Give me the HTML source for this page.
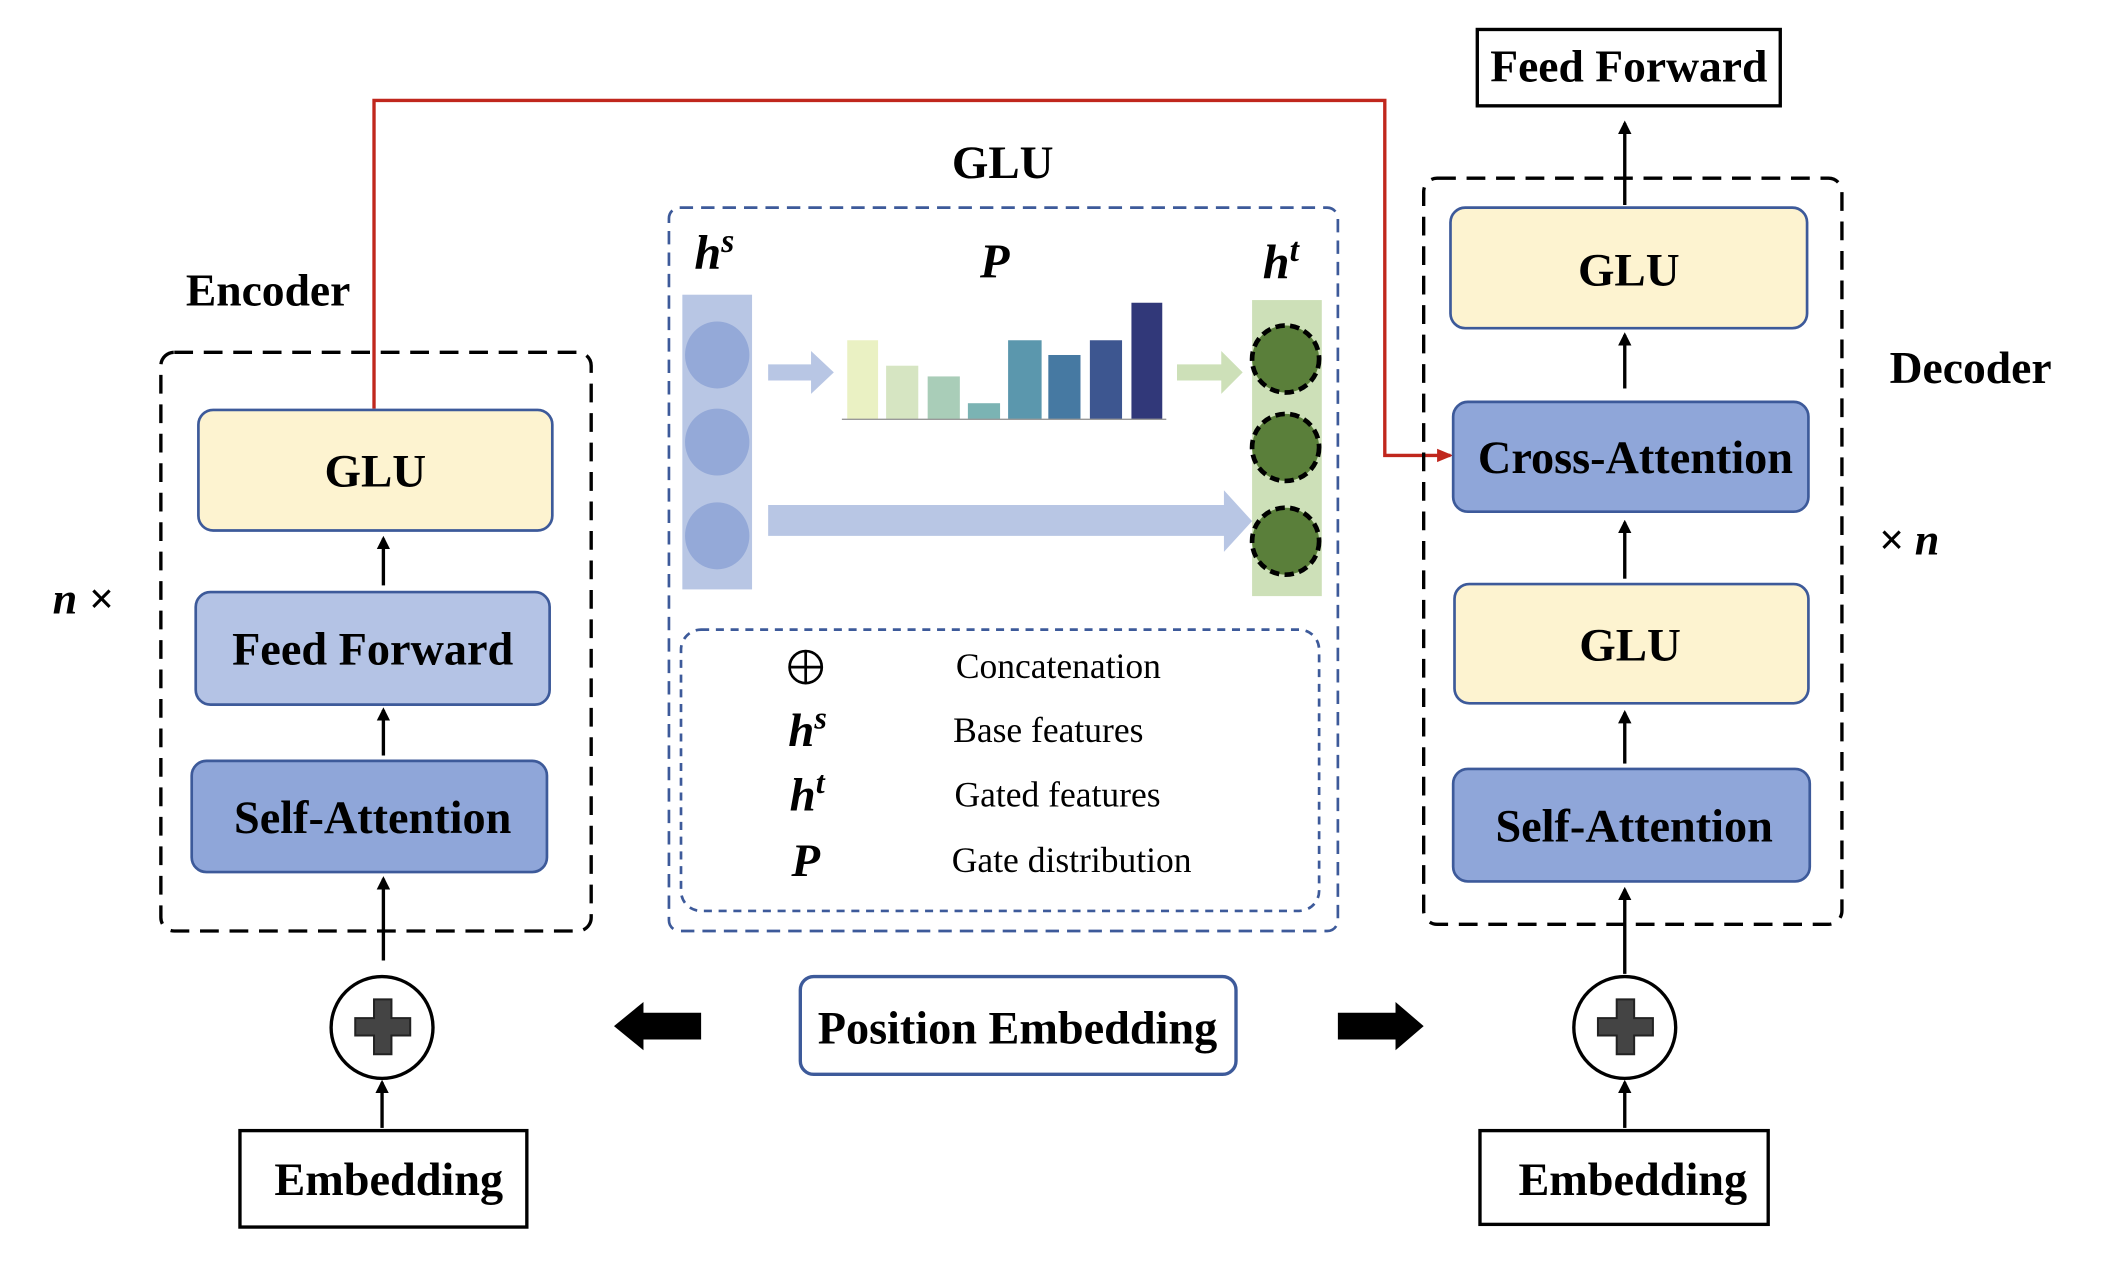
<!DOCTYPE html>
<html><head><meta charset="utf-8"><style>html,body{margin:0;padding:0;background:#fff}svg{display:block}</style></head>
<body>
<svg width="2102" height="1286" viewBox="0 0 1568 960" preserveAspectRatio="none" xmlns="http://www.w3.org/2000/svg" font-family="Liberation Serif, serif">
<defs>
<marker id="ah" markerWidth="10" markerHeight="10" refX="8" refY="5" orient="auto" markerUnits="userSpaceOnUse"><path d="M0,0 L10,5 L0,10 z" fill="#000"/></marker>
<marker id="ahr" markerWidth="12" markerHeight="12" refX="10" refY="6" orient="auto" markerUnits="userSpaceOnUse"><path d="M0,1 L12,6 L0,11 z" fill="#c0271d"/></marker>
</defs>
<polyline points="279,305 279,75 1033,75 1033,340 1082,340" fill="none" stroke="#c0271d" stroke-width="2.5" marker-end="url(#ahr)"/>

<text x="200" y="228" font-size="34" font-weight="bold" text-anchor="middle">Encoder</text>
<rect x="120" y="263" width="321" height="432" rx="10" fill="none" stroke="#000" stroke-width="2.5" stroke-dasharray="14,8"/>
<rect x="148" y="306" width="264" height="90" rx="11" fill="#fdf3d0" stroke="#3d5a9a" stroke-width="2"/>
<text x="280" y="363" font-size="35" font-weight="bold" text-anchor="middle">GLU</text>
<rect x="146" y="442" width="264" height="84" rx="11" fill="#b4c3e5" stroke="#3d5a9a" stroke-width="2"/>
<text x="278" y="496" font-size="34.5" font-weight="bold" text-anchor="middle">Feed Forward</text>
<rect x="143" y="568" width="265" height="83" rx="11" fill="#8fa6d9" stroke="#3d5a9a" stroke-width="2"/>
<text x="278" y="622" font-size="34.5" font-weight="bold" text-anchor="middle">Self-Attention</text>
<line x1="286" y1="437" x2="286" y2="402" stroke="#000" stroke-width="2.5" marker-end="url(#ah)"/>
<line x1="286" y1="564" x2="286" y2="530" stroke="#000" stroke-width="2.5" marker-end="url(#ah)"/>
<line x1="286" y1="717" x2="286" y2="656" stroke="#000" stroke-width="2.5" marker-end="url(#ah)"/>
<text x="62" y="458" font-size="33" font-weight="bold" font-style="italic" text-anchor="middle">n ×</text>
<circle cx="285" cy="767" r="38" fill="#fff" stroke="#000" stroke-width="2.5"/>
<path d="M279,746 h13 v14 h14 v13 h-14 v14 h-13 v-14 h-14 v-13 h14 z" fill="#444" stroke="#222" stroke-width="1.5"/>
<line x1="285" y1="842" x2="285" y2="808" stroke="#000" stroke-width="2.5" marker-end="url(#ah)"/>
<rect x="179" y="844" width="214" height="72" fill="#fff" stroke="#000" stroke-width="2.5"/>
<text x="290" y="892" font-size="34.5" font-weight="bold" text-anchor="middle">Embedding</text>

<path d="M523,756 H480 V748 L458,766 L480,784 V776 H523 z" fill="#000"/>
<path d="M998,756 H1041 V748 L1062,766 L1041,784 V776 H998 z" fill="#000"/>
<rect x="597" y="729" width="325" height="73" rx="10" fill="#fff" stroke="#3d5a9a" stroke-width="2.5"/>
<text x="759" y="779" font-size="34.5" font-weight="bold" text-anchor="middle">Position Embedding</text>

<text x="748" y="133" font-size="35" font-weight="bold" text-anchor="middle">GLU</text>
<rect x="499" y="155" width="499" height="540" rx="8" fill="none" stroke="#3d5a9a" stroke-width="2" stroke-dasharray="10,6"/>
<text x="518" y="201" font-size="36" font-weight="bold" font-style="italic">h<tspan font-size="25" dy="-13">s</tspan></text>
<text x="742" y="207" font-size="36" font-weight="bold" font-style="italic" text-anchor="middle">P</text>
<text x="942" y="208" font-size="36" font-weight="bold" font-style="italic">h<tspan font-size="25" dy="-13">t</tspan></text>
<rect x="509" y="220" width="52" height="220" fill="#b8c6e4"/>
<ellipse cx="535" cy="265" rx="24" ry="25" fill="#94a9d8"/>
<ellipse cx="535" cy="330" rx="24" ry="25" fill="#94a9d8"/>
<ellipse cx="535" cy="400" rx="24" ry="25" fill="#94a9d8"/>
<path d="M573,272 H605 V262 L622,278 L605,294 V284 H573 z" fill="#b8c6e4"/>
<path d="M878,272 H911 V262 L927,278 L911,294 V284 H878 z" fill="#cde0b8"/>
<path d="M573,377 H913 V366 L934,389 L913,412 V400 H573 z" fill="#b8c6e4"/>
<g>
<rect x="632" y="254" width="23" height="59" fill="#eaf1c3"/>
<rect x="661" y="273" width="24" height="40" fill="#d6e5c2"/>
<rect x="692" y="281" width="24" height="32" fill="#a9cdb8"/>
<rect x="722" y="301" width="24" height="12" fill="#7bb3b3"/>
<rect x="752" y="254" width="25" height="59" fill="#5b97ad"/>
<rect x="782" y="265" width="24" height="48" fill="#4679a2"/>
<rect x="813" y="254" width="24" height="59" fill="#3d5690"/>
<rect x="844" y="226" width="23" height="87" fill="#313879"/>
<line x1="628" y1="313" x2="870" y2="313" stroke="#999" stroke-width="1"/>
</g>
<rect x="934" y="224" width="52" height="221" fill="#cde0b8"/>
<ellipse cx="959" cy="268" rx="25" ry="25" fill="#5a7f3a" stroke="#000" stroke-width="3.5" stroke-dasharray="7,4"/>
<ellipse cx="959" cy="334" rx="25" ry="25" fill="#5a7f3a" stroke="#000" stroke-width="3.5" stroke-dasharray="7,4"/>
<ellipse cx="959" cy="404" rx="25" ry="25" fill="#5a7f3a" stroke="#000" stroke-width="3.5" stroke-dasharray="7,4"/>
<rect x="508" y="470" width="476" height="210" rx="15" fill="none" stroke="#3d5a9a" stroke-width="2" stroke-dasharray="6,5"/>
<circle cx="601" cy="498" r="12" fill="none" stroke="#000" stroke-width="2"/>
<line x1="589" y1="498" x2="613" y2="498" stroke="#000" stroke-width="2"/>
<line x1="601" y1="486" x2="601" y2="510" stroke="#000" stroke-width="2"/>
<text x="713" y="506" font-size="26.5">Concatenation</text>
<text x="588" y="557" font-size="35" font-weight="bold" font-style="italic">h<tspan font-size="24" dy="-13">s</tspan></text>
<text x="711" y="554" font-size="26.5">Base features</text>
<text x="589" y="605" font-size="35" font-weight="bold" font-style="italic">h<tspan font-size="24" dy="-13">t</tspan></text>
<text x="712" y="602" font-size="26.5">Gated features</text>
<text x="601" y="654" font-size="35" font-weight="bold" font-style="italic" text-anchor="middle">P</text>
<text x="710" y="651" font-size="26.5">Gate distribution</text>

<rect x="1102" y="22" width="226" height="57" fill="#fff" stroke="#000" stroke-width="2.5"/>
<text x="1215" y="61" font-size="34" font-weight="bold" text-anchor="middle">Feed Forward</text>
<text x="1470" y="286" font-size="34" font-weight="bold" text-anchor="middle">Decoder</text>
<text x="1424" y="414" font-size="33" font-weight="bold" font-style="italic" text-anchor="middle">× n</text>
<rect x="1062" y="133" width="312" height="557" rx="10" fill="none" stroke="#000" stroke-width="2.5" stroke-dasharray="14,8"/>
<line x1="1212" y1="153" x2="1212" y2="92" stroke="#000" stroke-width="2.5" marker-end="url(#ah)"/>
<rect x="1082" y="155" width="266" height="90" rx="11" fill="#fdf3d0" stroke="#3d5a9a" stroke-width="2"/>
<text x="1215" y="213" font-size="35" font-weight="bold" text-anchor="middle">GLU</text>
<line x1="1212" y1="290" x2="1212" y2="250" stroke="#000" stroke-width="2.5" marker-end="url(#ah)"/>
<rect x="1084" y="300" width="265" height="82" rx="11" fill="#8fa6d9" stroke="#3d5a9a" stroke-width="2"/>
<text x="1220" y="353" font-size="34.5" font-weight="bold" text-anchor="middle">Cross-Attention</text>
<line x1="1212" y1="432" x2="1212" y2="390" stroke="#000" stroke-width="2.5" marker-end="url(#ah)"/>
<rect x="1085" y="436" width="264" height="89" rx="11" fill="#fdf3d0" stroke="#3d5a9a" stroke-width="2"/>
<text x="1216" y="493" font-size="35" font-weight="bold" text-anchor="middle">GLU</text>
<line x1="1212" y1="570" x2="1212" y2="532" stroke="#000" stroke-width="2.5" marker-end="url(#ah)"/>
<rect x="1084" y="574" width="266" height="84" rx="11" fill="#8fa6d9" stroke="#3d5a9a" stroke-width="2"/>
<text x="1219" y="628" font-size="34.5" font-weight="bold" text-anchor="middle">Self-Attention</text>
<line x1="1212" y1="727" x2="1212" y2="664" stroke="#000" stroke-width="2.5" marker-end="url(#ah)"/>
<circle cx="1212" cy="767" r="38" fill="#fff" stroke="#000" stroke-width="2.5"/>
<path d="M1206,746 h13 v14 h14 v13 h-14 v14 h-13 v-14 h-14 v-13 h14 z" fill="#444" stroke="#222" stroke-width="1.5"/>
<line x1="1212" y1="842" x2="1212" y2="808" stroke="#000" stroke-width="2.5" marker-end="url(#ah)"/>
<rect x="1104" y="844" width="215" height="70" fill="#fff" stroke="#000" stroke-width="2.5"/>
<text x="1218" y="892" font-size="34.5" font-weight="bold" text-anchor="middle">Embedding</text>
</svg>
</body></html>
